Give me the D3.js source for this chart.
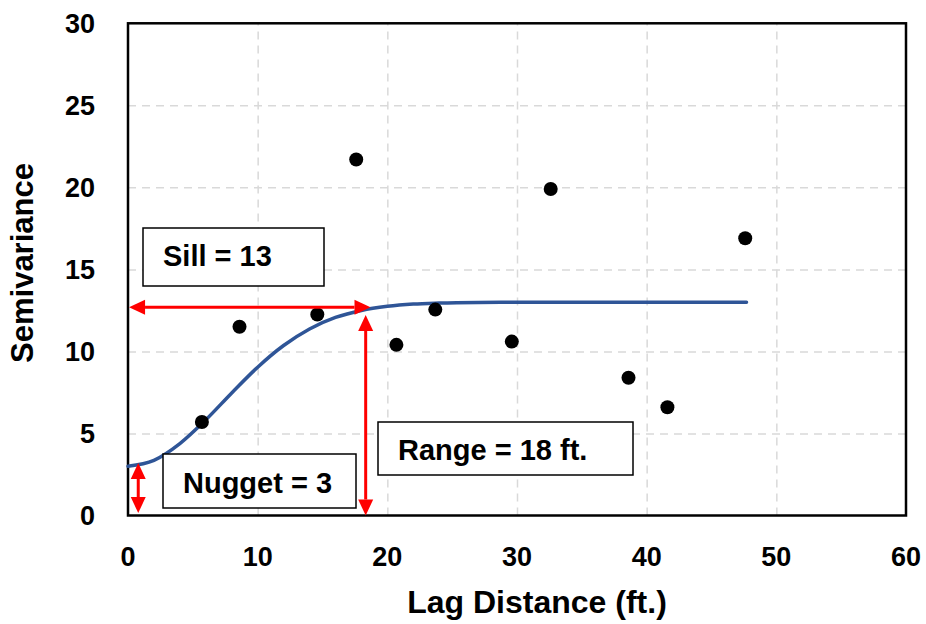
<!DOCTYPE html>
<html>
<head>
<meta charset="utf-8">
<style>
  body { margin: 0; background: #fff; }
  svg { display: block; font-family: 'Liberation Sans', Arial, sans-serif; font-weight: bold; }
  .grid line { stroke: #d9d9d9; stroke-width: 1.5px; stroke-dasharray: 8 6; }
  .grid .domain { display: none; }
  .tick-label { font-size: 27px; fill: #000; }
  .axis-title { font-size: 31px; fill: #000; }
  .box rect { fill: #fff; stroke: #000; stroke-width: 1.5px; }
  .box text { font-size: 29px; fill: #000; }
</style>
</head>
<body>
<svg width="926" height="624"></svg>
<script src="https://d3js.org/d3.v7.min.js"></script>
<script>
// observed semivariogram points (lag ft, semivariance)
let lags = [5.7, 8.6, 14.6, 17.6, 20.7, 23.7, 29.6, 32.6, 38.6, 41.6, 47.6];
let gammas = [5.7, 11.5, 12.25, 21.7, 10.4, 12.55, 10.6, 19.9, 8.4, 6.6, 16.9];

// fitted model curve
let modelLags = [0, 2, 4, 6, 8, 10, 12, 14, 16, 18, 20, 22, 24, 27, 30, 35, 40, 47.7];
let modelGammas = [3.0, 3.36, 4.38, 5.83, 7.47, 9.04, 10.36, 11.37, 12.07, 12.5, 12.75, 12.89, 12.95, 12.99, 13, 13, 13, 13];

let xTicks = [0, 10, 20, 30, 40, 50, 60];
let yTicks = [0, 5, 10, 15, 20, 25, 30];

let svg = d3.select("svg");

let margin = { left: 128, right: 20, top: 23.3, bottom: 108.5 };
let W = 926, H = 624;

let x = d3.scaleLinear().domain([0, 60]).range([margin.left, W - margin.right]);
let y = d3.scaleLinear().domain([0, 30]).range([H - margin.bottom, margin.top]);

// grid
svg.append("g")
  .attr("class", "grid")
  .attr("transform", `translate(0,${y(0)})`)
  .call(d3.axisBottom(x).tickValues(xTicks.slice(1, -1)).tickSize(-(y(0) - y(30))).tickFormat(""));

svg.append("g")
  .attr("class", "grid")
  .attr("transform", `translate(${x(0)},0)`)
  .call(d3.axisLeft(y).tickValues(yTicks.slice(1, -1)).tickSize(-(x(60) - x(0))).tickFormat(""));

// plot frame
svg.append("rect")
  .attr("x", x(0)).attr("y", y(30))
  .attr("width", x(60) - x(0)).attr("height", y(0) - y(30))
  .style("fill", "none").style("stroke", "#000").style("stroke-width", "2.5px");

// tick labels
svg.append("g").selectAll("text")
  .data(xTicks).join("text")
  .attr("class", "tick-label")
  .attr("x", d => x(d)).attr("y", 566)
  .attr("text-anchor", "middle")
  .text(d => d);

svg.append("g").selectAll("text")
  .data(yTicks).join("text")
  .attr("class", "tick-label")
  .attr("x", 95).attr("y", d => y(d) + 9.5)
  .attr("text-anchor", "end")
  .text(d => d);

// axis titles
svg.append("text").attr("class", "axis-title")
  .attr("x", 537).attr("y", 613).attr("text-anchor", "middle")
  .style("font-size", "32px")
  .text("Lag Distance (ft.)");

svg.append("text").attr("class", "axis-title")
  .attr("transform", "translate(33,263) rotate(-90)")
  .attr("text-anchor", "middle")
  .text("Semivariance");

// model curve
let line = d3.line().x((d, i) => x(modelLags[i])).y(d => y(d)).curve(d3.curveMonotoneX);
svg.append("path")
  .attr("d", line(modelGammas))
  .style("fill", "none").style("stroke", "#2f5597").style("stroke-width", "3.5px")
  .style("stroke-linecap", "round");

// points
svg.append("g").selectAll("circle")
  .data(gammas).join("circle")
  .attr("cx", (d, i) => x(lags[i])).attr("cy", d => y(d))
  .attr("r", 7).style("fill", "#000");

// red double arrows
function arrow(x1, y1, x2, y2) {
  let len = Math.hypot(x2 - x1, y2 - y1);
  let ux = (x2 - x1) / len, uy = (y2 - y1) / len;
  let hl = 16, hw = 7.5;
  let g = svg.append("g");
  g.append("line")
    .attr("x1", x1 + ux * hl).attr("y1", y1 + uy * hl)
    .attr("x2", x2 - ux * hl).attr("y2", y2 - uy * hl)
    .style("stroke", "#ff0000").style("stroke-width", "3px");
  [[x1, y1, -1], [x2, y2, 1]].forEach(([tx, ty, s]) => {
    let bx = tx - s * ux * hl, by = ty - s * uy * hl;
    g.append("path")
      .attr("d", `M${tx},${ty}L${bx - uy * hw},${by + ux * hw}L${bx + uy * hw},${by - ux * hw}Z`)
      .style("fill", "#ff0000");
  });
}

// sill, range and nugget arrows
arrow(x(0.08), y(12.69), x(18.7), y(12.69));
arrow(x(18.33), y(12.22), x(18.33), y(0));
arrow(x(0.79), y(3.2), x(0.79), y(0.15));

// labels in boxes
function box(x0, y0, x1, y1, tx, ty, label) {
  let g = svg.append("g").attr("class", "box");
  g.append("rect").attr("x", x0).attr("y", y0).attr("width", x1 - x0).attr("height", y1 - y0);
  g.append("text").attr("x", tx).attr("y", ty).text(label);
}

box(143, 228, 324, 286, 163, 266, "Sill = 13");
box(163, 454, 356, 508, 183, 493, "Nugget = 3");
box(378, 422, 633, 475, 398, 460, "Range = 18 ft.");
</script>
</body>
</html>
